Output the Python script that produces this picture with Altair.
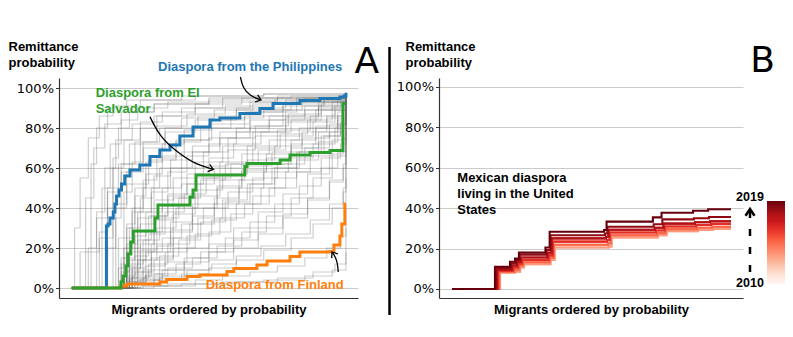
import altair as alt
import pandas as pd

# ---------------- Panel A : highlighted diasporas (rank 0-100, probability in %) ----------------
phil_rank = [0, 12.6, 13.2, 13.9, 15.1, 15.7, 16.3, 17.2, 18.1, 19.3, 21.2, 24.8, 28.5, 32.1, 35.8,
             39.4, 44.2, 50.4, 54.0, 61.3, 68.6, 73.4, 83.2, 90.5, 97.8, 99.3, 100]
phil_prob = [0, 31, 32, 35, 38, 42, 46, 49, 52, 56, 59, 61.5, 65.7, 69, 71.5,
             76, 80.5, 84, 85, 87.3, 89.8, 92.3, 93.7, 94.8, 95.5, 96, 97.5]

salv_rank = [0, 17.3, 17.9, 18.7, 19.7, 20.5, 21.5, 22.4, 30.3, 31.4, 43.1, 44.2, 45.3,
             63.1, 63.9, 76.0, 79.6, 86.9, 94.2, 98.9, 100]
salv_prob = [0, 0, 3, 6, 11, 17, 23, 28.5, 35, 41.5, 45.5, 49, 56.5,
             60.7, 62.3, 64, 66.5, 67.7, 68.7, 92.3, 92.3]

fin_rank = [0, 17.2, 17.9, 20.1, 32.1, 34.6, 42.0, 46.7, 56.6, 59.1, 67.5, 71.2, 79.6,
            83.2, 94.2, 95.6, 97.8, 98.5, 99.6, 100]
fin_prob = [0, 0, 1, 2, 3, 4.3, 5.7, 6.5, 8.3, 9.8, 11.5, 13.5, 15.7,
            18, 18.2, 21.5, 26, 32, 42, 42]

# other diasporas (grey), each a list of (rank, probability %)
grey_lines = [
    [(0, 0), (1, 30), (3, 55), (6, 75), (10, 86), (15, 91), (25, 94), (45, 96), (70, 97), (100, 98)],
    [(0, 0), (4, 0), (5, 45), (8, 70), (12, 82), (18, 88), (30, 92), (50, 94), (75, 96), (100, 97)],
    [(0, 0), (6, 0), (7, 62), (9, 80), (13, 90), (20, 94), (40, 96), (70, 97), (100, 98)],
    [(0, 0), (8, 0), (9, 38), (12, 60), (16, 74), (22, 82), (30, 86), (45, 90), (65, 93), (85, 95), (100, 97)],
    [(0, 0), (10, 0), (11, 50), (14, 72), (18, 84), (24, 90), (35, 93), (55, 95), (80, 96), (100, 97)],
    [(0, 0), (12, 0), (13, 20), (16, 42), (20, 58), (26, 70), (34, 78), (45, 84), (60, 89), (80, 93), (100, 96)],
    [(0, 0), (14, 0), (15, 65), (17, 80), (21, 88), (30, 92), (50, 95), (100, 97)],
    [(0, 0), (2, 0), (3, 18), (10, 25), (15, 40), (20, 52), (28, 64), (38, 74), (50, 82), (65, 88), (82, 93), (100, 96)],
    [(0, 0), (16, 0), (17, 10), (19, 25), (22, 38), (26, 50), (32, 60), (40, 68), (50, 75), (60, 80), (72, 86), (85, 91), (97, 94), (100, 97)],
    [(0, 0), (17, 0), (18, 8), (21, 20), (25, 32), (30, 44), (37, 55), (45, 63), (55, 71), (66, 78), (78, 85), (90, 90), (98, 93), (100, 97)],
    [(0, 0), (17, 0), (19, 15), (23, 28), (28, 36), (35, 46), (42, 52), (52, 60), (62, 67), (72, 74), (83, 80), (93, 86), (99, 90), (100, 96)],
    [(0, 0), (17, 0), (20, 5), (24, 14), (29, 22), (36, 33), (44, 42), (53, 51), (62, 58), (71, 65), (80, 72), (89, 80), (97, 86), (100, 95)],
    [(0, 0), (17, 0), (18, 4), (22, 10), (27, 18), (33, 25), (40, 32), (48, 40), (57, 48), (66, 55), (75, 62), (85, 70), (94, 78), (99, 82), (100, 94)],
    [(0, 0), (17, 0), (19, 3), (24, 8), (30, 14), (37, 20), (45, 27), (54, 35), (63, 42), (72, 50), (82, 58), (91, 65), (98, 72), (100, 90)],
    [(0, 0), (16, 0), (18, 12), (21, 30), (25, 45), (30, 56), (36, 64), (44, 71), (54, 78), (65, 84), (78, 89), (90, 93), (100, 96)],
    [(0, 0), (18, 0), (20, 18), (24, 35), (29, 48), (35, 58), (42, 66), (50, 72), (60, 78), (72, 84), (85, 89), (95, 93), (100, 96)],
    [(0, 0), (17, 0), (19, 6), (23, 16), (28, 27), (34, 38), (41, 47), (49, 55), (58, 62), (68, 69), (78, 76), (88, 83), (96, 89), (100, 95)],
    [(0, 0), (18, 0), (21, 4), (26, 9), (32, 16), (39, 24), (47, 33), (56, 43), (65, 52), (74, 60), (83, 68), (92, 76), (98, 82), (100, 93)],
    [(0, 0), (17, 0), (20, 2), (26, 5), (33, 9), (41, 13), (50, 18), (59, 24), (68, 30), (77, 37), (86, 45), (94, 54), (99, 62), (100, 88)],
    [(0, 0), (17, 0), (22, 2), (30, 4), (40, 7), (50, 10), (60, 14), (70, 19), (80, 25), (88, 32), (95, 40), (99, 48), (100, 75)],
    [(0, 0), (18, 0), (25, 1), (35, 2), (45, 4), (55, 6), (65, 8), (75, 11), (85, 15), (93, 20), (98, 26), (100, 55)],
    [(0, 0), (17, 0), (30, 1), (45, 2), (60, 3), (75, 5), (88, 8), (96, 12), (100, 30)],
    [(0, 0), (19, 0), (21, 10), (25, 22), (30, 34), (37, 45), (45, 55), (54, 63), (64, 71), (75, 79), (87, 86), (96, 91), (100, 96)],
    [(0, 0), (18, 0), (20, 14), (23, 26), (27, 38), (33, 50), (40, 60), (48, 68), (57, 75), (67, 81), (79, 87), (91, 92), (100, 96)],
    [(0, 0), (17, 0), (19, 20), (22, 40), (26, 54), (31, 65), (38, 73), (47, 80), (58, 85), (70, 89), (84, 93), (100, 96)],
    [(0, 0), (17, 0), (21, 7), (26, 14), (31, 21), (37, 28), (44, 36), (52, 45), (61, 54), (70, 62), (80, 70), (90, 78), (97, 84), (100, 95)],
    [(0, 0), (18, 0), (22, 5), (28, 12), (35, 22), (43, 32), (52, 42), (61, 50), (70, 58), (79, 65), (88, 72), (96, 80), (100, 94)],
    [(0, 0), (17, 0), (20, 9), (25, 19), (31, 30), (38, 40), (46, 49), (55, 57), (64, 64), (74, 71), (84, 78), (93, 85), (100, 95)],
    [(0, 0), (17, 0), (23, 3), (30, 7), (38, 12), (47, 18), (56, 25), (65, 33), (74, 42), (83, 51), (91, 60), (97, 68), (100, 92)],
    [(0, 0), (18, 0), (24, 2), (32, 5), (41, 9), (50, 14), (59, 20), (68, 27), (77, 35), (86, 44), (94, 53), (99, 60), (100, 85)],
    [(0, 0), (16, 0), (17, 25), (19, 48), (22, 63), (26, 73), (32, 80), (40, 85), (52, 89), (66, 92), (82, 95), (100, 97)],
    [(0, 0), (15, 0), (16, 35), (18, 58), (21, 72), (25, 80), (31, 86), (40, 90), (55, 93), (75, 95), (100, 97)],
    [(0, 0), (17, 0), (19, 2), (25, 4), (33, 6), (42, 9), (51, 12), (60, 16), (69, 21), (78, 27), (87, 34), (94, 42), (99, 50), (100, 80)],
    [(0, 0), (17, 0), (20, 11), (24, 24), (29, 36), (35, 47), (42, 57), (50, 65), (59, 72), (69, 78), (80, 84), (91, 89), (100, 95)],
    [(0, 0), (18, 0), (21, 3), (27, 7), (34, 13), (42, 20), (50, 28), (58, 37), (66, 46), (74, 55), (82, 64), (90, 73), (97, 81), (100, 93)],
    [(0, 0), (17, 0), (22, 6), (29, 15), (37, 25), (46, 35), (55, 44), (64, 52), (73, 60), (82, 68), (91, 76), (98, 83), (100, 95)],
    [(0, 0), (19, 0), (20, 30), (23, 50), (27, 63), (33, 72), (41, 79), (51, 84), (63, 88), (77, 92), (92, 95), (100, 97)],
    [(0, 0), (5, 0), (6, 20), (9, 35), (13, 50), (18, 62), (25, 72), (34, 80), (46, 86), (60, 90), (78, 94), (100, 97)],
    [(0, 0), (17, 0), (26, 1), (40, 2), (55, 3), (70, 4), (85, 6), (95, 9), (100, 18)],
    [(0, 0), (17, 0), (21, 5), (27, 11), (34, 18), (42, 26), (51, 34), (60, 42), (69, 50), (78, 58), (87, 66), (95, 74), (100, 90)],
    [(0, 0), (17, 0), (18, 15), (20, 32), (23, 46), (27, 57), (33, 66), (41, 74), (51, 80), (63, 86), (77, 91), (92, 94), (100, 97)],
    [(0, 0), (18, 0), (23, 8), (29, 18), (36, 29), (44, 40), (53, 50), (62, 59), (71, 67), (80, 74), (89, 81), (97, 88), (100, 96)],
    [(0, 0), (17, 0), (21, 12), (26, 24), (32, 35), (39, 45), (47, 54), (56, 62), (66, 70), (76, 77), (86, 84), (95, 90), (100, 96)],
    [(0, 0), (12, 0), (13, 40), (15, 60), (19, 74), (25, 83), (33, 88), (45, 92), (62, 95), (100, 97)],
    [(0, 0), (17, 0), (24, 4), (32, 9), (41, 15), (50, 22), (59, 30), (68, 38), (77, 47), (86, 57), (94, 67), (99, 75), (100, 94)],
    [(0, 0), (18, 0), (20, 22), (24, 38), (29, 50), (36, 60), (44, 68), (54, 75), (65, 81), (77, 86), (90, 91), (100, 96)],
    [(0, 0), (17, 0), (19, 8), (24, 18), (30, 28), (37, 37), (45, 46), (54, 54), (63, 61), (73, 68), (84, 75), (94, 82), (100, 95)],
    [(0, 0), (9, 0), (10, 28), (13, 48), (17, 62), (23, 73), (31, 81), (42, 87), (56, 91), (74, 94), (100, 97)],
    [(0, 0), (17, 0), (20, 3), (27, 6), (35, 10), (44, 15), (53, 21), (62, 28), (71, 36), (80, 45), (88, 55), (95, 66), (100, 90)],
    [(0, 0), (18, 0), (22, 14), (27, 28), (33, 41), (40, 52), (48, 61), (57, 69), (67, 76), (78, 83), (89, 89), (100, 96)],
]

# annotation arrows (rank, %) and the angle of each arrow tip
arrow_phil = [(61.5, 105.5), (62.4, 100), (65, 96), (69, 94)]
arrow_salv = [(28.5, 85.6), (32.1, 75.6), (38.2, 68.2), (44.3, 62.3), (51.6, 59.3)]
arrow_fin = [(97.2, 8), (96.9, 12.5), (96.2, 15.5), (94.9, 18)]
arrow_tip_angle = [110, 107, 325]

# ---------------- Panel B : Mexican diaspora in the United States ----------------
mex_years = [2010, 2011, 2012, 2013, 2014, 2015, 2016, 2017, 2018, 2019]   # drawing order
mex_rank = [0, 15.4, 20.8, 22.6, 24.0, 33.5, 35.0, 54.5, 55.4, 72.0, 75.1, 86.4, 91.8, 100]
mex_prob = {
    2019: [0, 11.0, 13.5, 15.0, 18.0, 20.5, 28.3, 29.2, 33.3, 35.4, 37.7, 38.7, 39.4, 39.4],
    2018: [0, 10.3, 12.6, 14.3, 16.9, 19.2, 26.6, 27.4, 30.8, 32.0, 34.4, 35.0, 35.6, 35.6],
    2017: [0, 9.6, 11.6, 13.4, 15.6, 17.9, 25.0, 25.8, 29.3, 30.3, 32.3, 33.0, 33.5, 33.5],
    2016: [0, 9.6, 11.6, 13.4, 15.6, 17.9, 25.0, 25.8, 29.3, 30.3, 32.3, 33.0, 33.5, 33.5],
    2015: [0, 9.0, 10.6, 12.5, 14.3, 16.6, 23.4, 24.2, 27.9, 28.9, 30.9, 31.6, 32.2, 32.2],
    2014: [0, 9.0, 10.6, 12.5, 14.3, 16.6, 23.4, 24.2, 27.9, 28.9, 30.9, 31.6, 32.2, 32.2],
    2013: [0, 8.5, 9.6, 11.6, 13.2, 15.5, 21.9, 22.6, 26.6, 27.6, 29.6, 30.3, 30.8, 30.8],
    2012: [0, 8.5, 9.6, 11.6, 13.2, 15.5, 21.9, 22.6, 26.6, 27.6, 29.6, 30.3, 30.8, 30.8],
    2011: [0, 8.0, 8.6, 10.6, 12.2, 14.4, 20.5, 21.0, 25.5, 26.6, 28.6, 29.2, 29.7, 29.7],
    2010: [0, 8.0, 8.6, 10.6, 12.2, 14.4, 20.5, 21.0, 25.5, 26.6, 28.6, 29.2, 29.7, 29.7],
}
mex_shift = {2010: 1.8, 2011: 1.8, 2012: 1.5, 2013: 1.5, 2014: 1.1,
             2015: 1.1, 2016: 0.7, 2017: 0.7, 2018: 0.3, 2019: 0.0}

# colour bar: ColorBrewer "Reds", white end below the 2010 line
reds9 = ["#fff5f0", "#fee0d2", "#fcbba1", "#fc9272", "#fb6a4a",
         "#ef3b2c", "#cb181d", "#a50f15", "#67000d"]
cbar_min, cbar_max = 2006.75, 2019

y_ticks = [0, 20, 40, 60, 80, 100]

# ---------------- build tables ----------------
def series(rank, prob):
    return pd.DataFrame({"rank": rank, "prob": prob})

grey_rows = []
for i, pts in enumerate(grey_lines):
    for r, p in pts:
        grey_rows.append({"line": i, "rank": r, "prob": p})
grey_df = pd.DataFrame(grey_rows)

arrow_rows = []
for name, pts in [("phil", arrow_phil), ("salv", arrow_salv), ("fin", arrow_fin)]:
    for j, (r, p) in enumerate(pts):
        arrow_rows.append({"arrow": name, "i": j, "rank": r, "prob": p})
arrow_df = pd.DataFrame(arrow_rows)
tips_df = pd.DataFrame({
    "rank": [arrow_phil[-1][0], arrow_salv[-1][0], arrow_fin[-1][0]],
    "prob": [arrow_phil[-1][1], arrow_salv[-1][1], arrow_fin[-1][1]],
    "ang": arrow_tip_angle,
})


def mex_table(y):
    rows = []
    for k, (r, p) in enumerate(zip(mex_rank, mex_prob[y])):
        rr = r if k in (0, len(mex_rank) - 1) else r + mex_shift[y]
        rows.append({"year": y, "rank": rr, "prob": p})
    return pd.DataFrame(rows)


one = pd.DataFrame({"d": [0]})

# ---------------- styling ----------------
FB = "Liberation Sans"
FT = "DejaVu Sans"


def y_axis(title_x):
    return alt.Axis(values=y_ticks, labelExpr="datum.value + '%'", labelFont=FT, labelFontSize=13,
                    labelColor="#000", labelPadding=2, tickSize=3.5, tickColor="#333", tickWidth=1,
                    domainColor="#333", domainWidth=1.2, gridColor="#cbcbcb", gridWidth=1,
                    title=["Remittance", "probability"], titleFont=FB, titleFontSize=13,
                    titleFontWeight="bold", titleColor="#000", titleAngle=0, titleAlign="left",
                    titleBaseline="alphabetic", titleX=title_x, titleY=-27.3, titleLineHeight=15.5)


x_axis = alt.Axis(title="Migrants ordered by probability", labels=False, ticks=False, grid=False,
                  domainColor="#333", domainWidth=1.2, titleFont=FB, titleFontSize=13,
                  titleFontWeight="bold", titleColor="#000", titlePadding=5)

xA = alt.X("rank:Q", scale=alt.Scale(domain=[-4.7, 104.4], nice=False, zero=False), axis=x_axis)
yA = alt.Y("prob:Q", scale=alt.Scale(domain=[-5, 105], nice=False, zero=False), axis=y_axis(-51))


def label(text, x, y, color="#000", align="left", size=13, font=FB, weight="bold", lh=16):
    return alt.Chart(one).mark_text(text=text, align=align, baseline="alphabetic", font=font,
                                    fontSize=size, fontWeight=weight, color=color,
                                    lineHeight=lh).encode(x=alt.value(x), y=alt.value(y))


grey = alt.Chart(grey_df).mark_line(interpolate="step-after", color="#6a6a6a", strokeWidth=1.2,
                                    opacity=0.33).encode(x=xA, y=yA, detail="line:N")
blue = alt.Chart(series(phil_rank, phil_prob)).mark_line(
    interpolate="step-after", color="#1f77b4", strokeWidth=3).encode(x=xA, y=yA)
orange = alt.Chart(series(fin_rank, fin_prob)).mark_line(
    interpolate="step-after", color="#ff7f0e", strokeWidth=3).encode(x=xA, y=yA)
green = alt.Chart(series(salv_rank, salv_prob)).mark_line(
    interpolate="step-after", color="#2ca02c", strokeWidth=3).encode(x=xA, y=yA)
arrows = alt.Chart(arrow_df).mark_line(interpolate="basis", color="black", strokeWidth=1.3).encode(
    x=xA, y=yA, detail="arrow:N", order="i:Q")
heads = alt.Chart(tips_df).mark_point(shape="M-1,1.3L0,0L1,1.3", filled=False, size=56,
                                      strokeWidth=1.3, color="black", opacity=1).encode(
    x=xA, y=yA, angle=alt.Angle("ang:Q", scale=None))

divider = alt.Chart(one).mark_rule(color="black", strokeWidth=2.5).encode(
    x=alt.value(330.5), y=alt.value(-31), y2=alt.value(237))

panelA = alt.layer(
    grey, blue, orange, green, arrows, heads,
    label("Diaspora from the Philippines", 99, -7.3, "#1f77b4"),
    label(["Diaspora from El", "Salvador"], 36.7, 18.7, "#2ca02c"),
    label("Diaspora from Finland", 146.7, 211.3, "#ff7f0e"),
    label("A", 307.7, -4.7, align="center", size=36, font=FT, weight="normal"),
    divider,
).properties(width=299, height=220)

xB = alt.X("rank:Q", scale=alt.Scale(domain=[-4.66, 104.3], nice=False, zero=False), axis=x_axis)
yB = alt.Y("prob:Q", scale=alt.Scale(domain=[-4.45, 104.3], nice=False, zero=False), axis=y_axis(-34))

n_stop = len(reds9)
color_domain = [cbar_min + (cbar_max - cbar_min) * i / (n_stop - 1) for i in range(n_stop)]
mex_color = alt.Color(
    "year:Q", scale=alt.Scale(domain=color_domain, range=reds9, interpolate="rgb"),
    legend=alt.Legend(orient="none", legendX=328, legendY=123, direction="vertical",
                      gradientLength=83, gradientThickness=18, gradientStrokeWidth=0,
                      title=None, labelExpr="''", labelOffset=0, labelFontSize=1,
                      padding=0, tickCount=2))

mex_layers = [
    alt.Chart(mex_table(y)).mark_line(interpolate="step-after", strokeWidth=2.1).encode(
        x=xB, y=yB, color=mex_color)
    for y in mex_years
]

dash = alt.Chart(one).mark_rule(color="black", strokeWidth=2.5, strokeDash=[7, 11]).encode(
    x=alt.value(311), y=alt.value(194), y2=alt.value(133))
dash_head = alt.Chart(one).mark_point(shape="M-1,1.5L0,0L1,1.5", filled=False, size=81,
                                      strokeWidth=2.5, color="black", opacity=1).encode(
    x=alt.value(311), y=alt.value(131))

panelB = alt.layer(
    *mex_layers, dash, dash_head,
    label(["Mexican diaspora", "living in the United", "States"], 18.3, 103.7),
    label("2019", 311, 122.7, align="center", size=12.5),
    label("2010", 311, 209.3, align="center", size=12.5),
    label("B", 323.5, -6.3, align="center", size=36, font=FT, weight="normal"),
).properties(width=304, height=220)

chart = alt.hconcat(panelA, panelB, spacing=81, bounds="flush").resolve_scale(
    color="independent").resolve_legend(color="independent").configure_view(stroke=None).properties(
    padding={"left": 0, "top": 32, "right": 0, "bottom": 0},
    autosize=alt.AutoSizeParams(type="pad"))

chart.save("out.html", embed_options={"renderer": "svg", "actions": False})
